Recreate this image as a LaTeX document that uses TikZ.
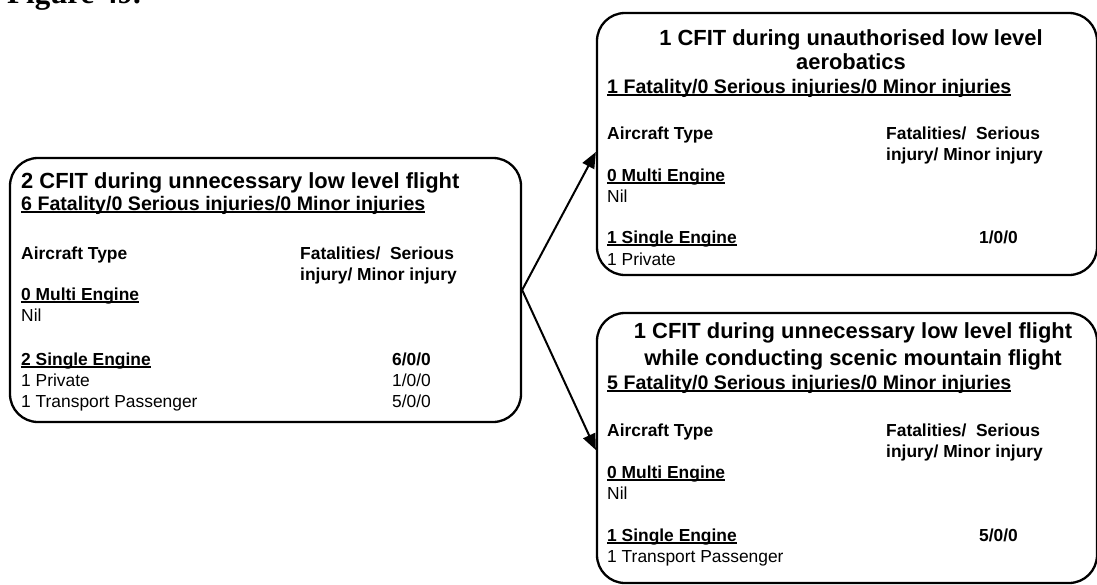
\documentclass[tikz,border=0pt]{standalone}
\usepackage{fontspec}
\setmainfont{Liberation Sans}
\newfontfamily\headserif{Liberation Serif}
\newsavebox\ulinebox
\newcommand\uline[1]{\sbox\ulinebox{#1}\rlap{\rule[-2.6pt]{\wd\ulinebox}{1.5pt}}\usebox\ulinebox}
\usetikzlibrary{arrows.meta}

\begin{document}
\begin{tikzpicture}[x=1pt,y=-1pt,>={Triangle[length=16pt,width=13pt]},
panel/.style={draw,line width=2.3pt,rounded corners=28pt,inner sep=0pt},
ttl/.style={font=\fontsize{21.9}{26}\selectfont\bfseries,inner sep=0pt,anchor=base},
sub/.style={font=\fontsize{19.6}{23}\selectfont\bfseries,inner sep=0pt,anchor=base west},
row/.style={font=\fontsize{17.4}{21}\selectfont,inner sep=0pt,anchor=base west},
hrow/.style={row,font=\fontsize{17.4}{21}\selectfont\bfseries},
val/.style={row,anchor=base east},
bval/.style={hrow,anchor=base east}]
\useasboundingbox (0,0) rectangle (1097,584);
\node[anchor=base west,inner sep=0pt,font=\headserif\bfseries\fontsize{31}{36}\selectfont] (fig) at (7,3) {Figure 49.};
% boxes
\node[panel,minimum width=511pt,minimum height=264pt] (left) at (265.5,290) {};
\node[panel,minimum width=500pt,minimum height=262pt] (top) at (847,144) {};
\node[panel,minimum width=500pt,minimum height=270pt] (bot) at (847,448) {};
\draw[->,line width=2pt] (left.east)--([yshift=-8pt]top.west);
\draw[->,line width=2pt] (left.east)--([yshift=-2pt]bot.west);
% left box
\node[ttl,anchor=base west] (lt) at (21,188) {2 CFIT during unnecessary low level flight};
\node[sub] (ls) at (21,210) {\uline{6 Fatality/0 Serious injuries/0 Minor injuries}};
\node[hrow] (la) at (21,259) {Aircraft Type};
\node[hrow] (lh1) at (300,259) {Fatalities/\ \ Serious};
\node[hrow] (lh2) at (300,280) {injury/ Minor injury};
\node[hrow] (lm) at (21,300) {\uline{0 Multi Engine}};
\node[row] (ln) at (21,321.5) {Nil};
\node[hrow] (lse) at (21,365) {\uline{2 Single Engine}};
\node[bval] (lsev) at (431,365) {6/0/0};
\node[row] (lp) at (21,386.5) {1 Private};
\node[val] (lpv) at (431,386.5) {1/0/0};
\node[row] (ltp) at (21,407.5) {1 Transport Passenger};
\node[val] (ltpv) at (431,407.5) {5/0/0};
% top right box
\node[ttl] (tt1) at (851,45) {1 CFIT during unauthorised low level};
\node[ttl] (tt2) at (851,69) {aerobatics};
\node[sub] (ts) at (607,93) {\uline{1 Fatality/0 Serious injuries/0 Minor injuries}};
\node[hrow] (ta) at (607,139) {Aircraft Type};
\node[hrow] (th1) at (886,139) {Fatalities/\ \ Serious};
\node[hrow] (th2) at (886,160) {injury/ Minor injury};
\node[hrow] (tm) at (607,181) {\uline{0 Multi Engine}};
\node[row] (tn) at (607,202) {Nil};
\node[hrow] (tse) at (607,243) {\uline{1 Single Engine}};
\node[bval] (tsev) at (1018,243) {1/0/0};
\node[row] (tp) at (607,265) {1 Private};
% bottom right box
\node[ttl] (bt1) at (853,338) {1 CFIT during unnecessary low level flight};
\node[ttl] (bt2) at (853,365) {while conducting scenic mountain flight};
\node[sub] (bs) at (607,389) {\uline{5 Fatality/0 Serious injuries/0 Minor injuries}};
\node[hrow] (ba) at (607,436) {Aircraft Type};
\node[hrow] (bh1) at (886,436) {Fatalities/\ \ Serious};
\node[hrow] (bh2) at (886,457) {injury/ Minor injury};
\node[hrow] (bm) at (607,478) {\uline{0 Multi Engine}};
\node[row] (bn) at (607,499) {Nil};
\node[hrow] (bse) at (607,541) {\uline{1 Single Engine}};
\node[bval] (bsev) at (1018,541) {5/0/0};
\node[row] (btp) at (607,562) {1 Transport Passenger};
\end{tikzpicture}
\end{document}
